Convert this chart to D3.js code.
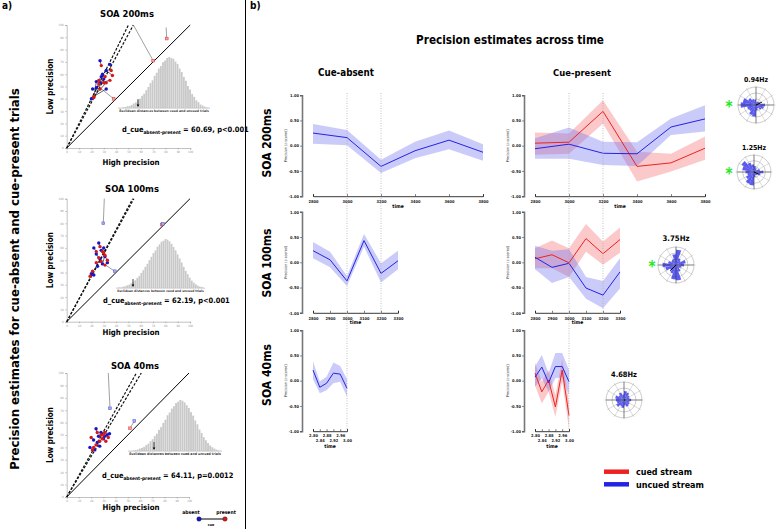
<!DOCTYPE html>
<html><head><meta charset="utf-8">
<script src="https://cdn.jsdelivr.net/npm/d3@7/dist/d3.min.js"></script>
<style>
body{margin:0;background:#fff;}
svg{display:block;}
text{font-family:'DejaVu Sans Condensed','DejaVu Sans',sans-serif;}
</style></head><body>
<svg id="c" width="777" height="529"></svg>
<script>
// ================= DATA =================
const soaTitles = ["SOA 200ms", "SOA 100ms", "SOA 40ms"];
const statValues = ["= 60.69, p<0.001", "= 62.19, p<0.001", "= 64.11, p=0.0012"];
const absent200 = [[27,71],[35,68],[32,63],[29,60],[24,54],[21,48],[20,40],[24,49],[27,53],[30,56],[32,48],[28,58]];
const present200 = [[28,67],[36,63],[37,59],[26,55],[22,41],[27,48],[32,53],[30,53],[35,55],[26,52],[22,42],[31,58]];
const absent100 = [[26,64],[22,60],[28,58],[24,55],[27,51],[31,53],[33,48],[20,39],[22,38],[25,45],[29,47],[30,60]];
const present100 = [[27,61],[24,57],[30,56],[26,52],[28,49],[33,50],[31,46],[21,41],[19,37],[24,48],[31,54],[29,57]];
const absent40 = [[24,55],[28,52],[31,49],[22,46],[25,44],[27,41],[19,40],[33,50],[30,47],[26,49],[23,38],[35,51]];
const present40 = [[25,52],[30,50],[29,47],[20,48],[27,45],[24,42],[21,38],[34,48],[32,45],[28,50],[22,40],[31,52]];
const dash200 = [50, 54];
const dash100 = [53.5, 54.5];
const dash40 = [57, 61];
const outLines200 = [[54,100,70,71],[80.5,98,81,89],[27,49,38,40]];
const outMarks200 = [[70,71,"r"],[81,89,"r"],[38,40,"r"]];
const outLines100 = [[30.5,100,29.7,80],[30,47,39,41]];
const outMarks100 = [[29.7,80,"b"],[39,41,"b"],[77,79,"r"],[78,79.6,"b"]];
const outLines40 = [[34,100,35.4,71.5],[51.8,55.4,55.3,61.3]];
const outMarks40 = [[35.4,71.5,"b"],[51.8,55.4,"r"],[55.3,61.3,"b"]];
const hist200 = [1,1,2,3,5,6,9,13,16,22,27,35,41,51,60,71,79,92,101,113,120,131,136,143,146,143,141,133,126,113,103,89,78,63,53,40,32,22,17,10,7,4,2,1];
const hist100 = [1,2,2,4,5,8,10,14,19,23,30,36,45,53,63,72,83,93,104,112,123,130,138,141,146,144,139,131,122,112,100,88,76,63,51,41,31,22,16,11,7,4,3,1];
const hist40 = [1,1,2,3,4,7,9,12,17,21,28,34,43,50,61,69,81,90,103,111,122,129,138,142,147,145,140,132,124,112,102,88,77,62,52,40,31,23,16,11,7,4,2,1];
const histLabel = "Euclidean distances between cued and uncued trials";
const axisTicksA = [0,10,20,30,40,50,60,70,80,90,100];

const times200 = [2800,3000,3200,3400,3600,3800];
const times100 = [2800,2900,3000,3100,3200,3300];
const times40 = [2800,2840,2880,2920,2960,3000];
const yTicksB = [-1, -0.5, 0, 0.5, 1];
const absent200Mean = [0.25,0.16,-0.41,-0.10,0.11,-0.13];
const absent200Lo   = [0.04,0.01,-0.54,-0.25,-0.07,-0.30];
const absent200Hi   = [0.43,0.31,-0.28,0.08,0.30,0.03];
const absent100Mean = [0.23,0.05,-0.37,0.43,-0.22,0.03];
const absent100Lo   = [0.08,-0.10,-0.47,0.31,-0.40,-0.14];
const absent100Hi   = [0.40,0.21,-0.27,0.56,-0.02,0.23];
const absent40Mean  = [0.21,-0.13,-0.05,0.15,0.13,-0.15];
const absent40Lo    = [0.03,-0.25,-0.19,-0.05,-0.02,-0.32];
const absent40Hi    = [0.38,-0.01,0.08,0.36,0.29,0.03];
const cued200Mean = [0.05,0.07,0.68,-0.41,-0.34,-0.05];
const cued200Lo   = [-0.18,-0.16,0.44,-0.71,-0.51,-0.28];
const cued200Hi   = [0.26,0.24,0.90,-0.12,-0.16,0.18];
const cued100Mean = [0.07,0.15,-0.01,0.47,0.17,0.45];
const cued100Lo   = [-0.12,-0.12,-0.29,0.21,-0.05,0.19];
const cued100Hi   = [0.28,0.43,0.28,0.76,0.41,0.69];
const cued40Mean  = [0.15,-0.22,0.01,-0.52,0.21,-0.69];
const cued40Lo    = [-0.09,-0.45,-0.22,-0.72,-0.02,-0.95];
const cued40Hi    = [0.36,-0.02,0.21,-0.29,0.43,-0.42];
const uncued200Mean = [-0.06,0.03,-0.15,-0.16,0.37,0.53];
const uncued200Lo   = [-0.26,-0.26,-0.38,-0.40,0.21,0.28];
const uncued200Hi   = [0.15,0.36,0.08,0.07,0.54,0.80];
const uncued100Mean = [0.10,-0.10,-0.02,-0.51,-0.65,-0.19];
const uncued100Lo   = [-0.14,-0.41,-0.29,-0.72,-0.91,-0.52];
const uncued100Hi   = [0.33,0.23,0.26,-0.29,-0.37,0.08];
const uncued40Mean  = [0.07,0.27,-0.04,0.28,0.28,-0.02];
const uncued40Lo    = [-0.12,0.05,-0.22,0.05,0.07,-0.29];
const uncued40Hi    = [0.28,0.51,0.15,0.55,0.55,0.21];
const markerTimes = [3000, 3200];
const polarLabels = ["0.94Hz","1.25Hz","3.75Hz","4.68Hz"];
const rose1 = [0.5,0.2,0.25,0.2,0.15,0.3,0.35,0.5,0.75,0.85,0.5,0.45,0.6,0.65,0.3,0.2,0.35,0.45];
const rose2 = [0.55,0.35,0.2,0.25,0.35,0.45,0.6,0.85,0.7,0.5,0.4,0.55,0.75,0.8,0.3,0.2,0.25,0.4];
const rose3 = [0.45,0.55,0.3,0.4,0.85,0.6,0.35,0.3,0.45,0.75,0.6,0.4,0.5,0.8,0.85,0.4,0.25,0.3];
const rose4 = [0.4,0.3,0.35,0.45,0.5,0.3,0.45,0.35,0.5,0.45,0.4,0.5,0.35,0.45,0.3,0.4,0.35,0.3];
const roseSignificant = [true, true, true, false];
const roseVecAngle = [25, -25, 225, 0];
const roseVecLen = [0.35, 0.3, 0.45, 0.08];
const legendLabels = ["cued stream", "uncued stream"];

// ================= DRAW =================
const svg = d3.select("#c");
const BLUE = "#2323e6", RED = "#ee2222";
const BLUE_BAND = "rgba(110,110,240,0.36)", RED_BAND = "rgba(245,105,105,0.36)";

function fit(t, w) {
  const L = t.node().getComputedTextLength();
  const k = w / L;
  t.attr("font-size", +t.attr("font-size") * k);
  t.selectAll("tspan").each(function () {
    const s = d3.select(this);
    if (s.attr("font-size")) s.attr("font-size", +s.attr("font-size") * k);
    if (s.attr("dy")) s.attr("dy", +s.attr("dy") * k);
  });
  return k;
}
function label(x, y, txt, size, opts = {}) {
  const t = svg.append("text").attr("x", x).attr("y", y).attr("font-size", size)
    .attr("font-weight", opts.weight || "bold").attr("fill", opts.fill || "#000")
    .attr("text-anchor", opts.anchor || "middle").text(txt);
  if (opts.rotate) t.attr("x", 0).attr("y", 0).attr("transform", `translate(${x},${y}) rotate(-90)`);
  if (opts.width) fit(t, opts.width);
  return t;
}

svg.append("line").attr("x1", 245.5).attr("x2", 245.5).attr("y1", 0).attr("y2", 529).attr("stroke", "#000").attr("stroke-width", 1);
label(2, 9, "a)", 10, { anchor: "start" });
label(250, 9, "b)", 10, { anchor: "start" });
label(19, 279, "Precision estimates for cue-absent and cue-present trials", 14, { rotate: true, width: 382 });

// ---------- Panel a ----------
const aLayout = [
  { ox: 66.7, oy: 148, w: 123.5, h: 123, tx: 127, ty: 17, sx: 122, sy: 132, hx: [118, 210], hb: 108, hh: 51, ar: 138, hy: 165 },
  { ox: 66.7, oy: 321.7, w: 123.3, h: 123, tx: 132, ty: 192, sx: 103, sy: 303, hx: [116, 205], hb: 288, hh: 49, ar: 133, hy: 335 },
  { ox: 66.7, oy: 497, w: 122.3, h: 124, tx: 135, ty: 369, sx: 102, sy: 478, hx: [128, 222], hb: 451, hh: 51, ar: 154, hy: 510 }
];
const aData = [
  { abs: absent200, pre: present200, dash: dash200, lines: outLines200, marks: outMarks200, hist: hist200 },
  { abs: absent100, pre: present100, dash: dash100, lines: outLines100, marks: outMarks100, hist: hist100 },
  { abs: absent40, pre: present40, dash: dash40, lines: outLines40, marks: outMarks40, hist: hist40 }
];
const titlesA = [], statsA = [];

aLayout.forEach((L, i) => {
  const D = aData[i];
  const x = d3.scaleLinear([0, 100], [L.ox, L.ox + L.w]);
  const y = d3.scaleLinear([0, 100], [L.oy, L.oy - L.h]);
  const g = svg.append("g");
  const ax = g.append("g").attr("transform", `translate(0,${L.oy})`)
    .call(d3.axisBottom(x).tickValues(axisTicksA).tickSize(1.5).tickPadding(1.5));
  const ay = g.append("g").attr("transform", `translate(${L.ox},0)`)
    .call(d3.axisLeft(y).tickValues(axisTicksA).tickSize(1.5).tickPadding(1.5));
  [ax, ay].forEach(a => {
    a.selectAll("path,line").attr("stroke", "#999").attr("stroke-width", 0.6);
    a.selectAll("text").attr("font-size", 3).attr("fill", "#999").attr("font-family", "DejaVu Sans");
  });
  const hx = d3.scaleBand(d3.range(D.hist.length), L.hx).padding(0.12);
  const hy = d3.scaleLinear([0, d3.max(D.hist)], [L.hb, L.hb - L.hh]);
  g.selectAll(".hb").data(D.hist).join("rect")
    .attr("x", (d, j) => hx(j)).attr("width", hx.bandwidth())
    .attr("y", d => hy(d)).attr("height", d => L.hb - hy(d)).attr("fill", "#c9c9c9");
  g.append("line").attr("x1", L.hx[0]).attr("x2", L.hx[1]).attr("y1", L.hb + 0.3).attr("y2", L.hb + 0.3).attr("stroke", "#aaa").attr("stroke-width", 0.5);
  const ht = g.append("text").attr("x", (L.hx[0] + L.hx[1]) / 2).attr("y", L.hb + 4.2).attr("text-anchor", "middle")
    .attr("font-size", 3).attr("font-weight", "bold").attr("fill", "#333").text(histLabel);
  fit(ht, L.hx[1] - L.hx[0] - 2);
  g.append("line").attr("x1", L.ar).attr("x2", L.ar).attr("y1", L.hb - 9).attr("y2", L.hb - 2).attr("stroke", "#000").attr("stroke-width", 0.7);
  g.append("path").attr("d", `M${L.ar - 1.3},${L.hb - 3.5} L${L.ar},${L.hb - 1} L${L.ar + 1.3},${L.hb - 3.5} Z`).attr("fill", "#000");
  g.append("line").attr("x1", x(0)).attr("y1", y(0)).attr("x2", x(100)).attr("y2", y(100)).attr("stroke", "#000").attr("stroke-width", 1);
  D.dash.forEach(dx => g.append("line").attr("x1", x(0)).attr("y1", y(0)).attr("x2", x(dx)).attr("y2", y(100))
    .attr("stroke", "#111").attr("stroke-width", 1.2).attr("stroke-dasharray", "2.6,1.6"));
  D.lines.forEach(s => g.append("line").attr("x1", x(s[0])).attr("y1", y(s[1])).attr("x2", x(s[2])).attr("y2", y(s[3]))
    .attr("stroke", "#888").attr("stroke-width", 0.8));
  D.abs.forEach((p, j) => {
    const q = D.pre[j];
    g.append("line").attr("x1", x(p[0])).attr("y1", y(p[1])).attr("x2", x(q[0])).attr("y2", y(q[1])).attr("stroke", "#222").attr("stroke-width", 0.7);
  });
  g.selectAll(".pa").data(D.abs).join("circle").attr("cx", d => x(d[0])).attr("cy", d => y(d[1])).attr("r", 1.7).attr("fill", "#1515c8");
  g.selectAll(".pp").data(D.pre).join("circle").attr("cx", d => x(d[0])).attr("cy", d => y(d[1])).attr("r", 1.7).attr("fill", "#d41a1a");
  D.marks.forEach(m => g.append("rect").attr("x", x(m[0]) - 1.4).attr("y", y(m[1]) - 1.4).attr("width", 2.8).attr("height", 2.8)
    .attr("fill", m[2] === "r" ? "#f4a0a0" : "#a8a8f4").attr("stroke", m[2] === "r" ? "#d33" : "#55c").attr("stroke-width", 0.5));
  titlesA.push(label(L.tx, L.ty, soaTitles[i], 8, {}));
  label(53, L.oy - L.h / 2, "Low precision", 7.5, { rotate: true, width: 56 });
  label(131, L.hy, "High precision", 7.5, { width: 57 });
  const st = svg.append("text").attr("x", L.sx).attr("y", L.sy).attr("font-size", 8.5).attr("font-weight", "bold");
  st.append("tspan").attr("font-size", 8.5).text("d_cue");
  st.append("tspan").attr("font-size", 5.5).attr("dy", 2).text("absent-present");
  st.append("tspan").attr("font-size", 8.5).attr("dy", -2).text(" " + statValues[i]);
  statsA.push(st);
});
const kT = titlesA[1].node().getComputedTextLength();
titlesA.forEach(t => t.attr("font-size", 8 * 54 / kT));
const kS = 127 / statsA[1].node().getComputedTextLength();
statsA.forEach(st => st.selectAll("tspan").each(function () {
  const s = d3.select(this);
  s.attr("font-size", +s.attr("font-size") * kS);
  if (s.attr("dy")) s.attr("dy", +s.attr("dy") * kS);
}));

label(191, 513.5, "absent", 5, {});
label(226, 513.5, "present", 5, {});
svg.append("line").attr("x1", 199).attr("x2", 225).attr("y1", 519).attr("y2", 519).attr("stroke", "#000").attr("stroke-width", 1);
svg.append("circle").attr("cx", 199).attr("cy", 519).attr("r", 2.3).attr("fill", "#1515c8").attr("stroke", "#000").attr("stroke-width", 0.3);
svg.append("circle").attr("cx", 225).attr("cy", 519).attr("r", 2.3).attr("fill", "#d41a1a").attr("stroke", "#000").attr("stroke-width", 0.3);
label(211, 525.5, "cue", 3.6, {});

// ---------- Panel b ----------
label(510, 44, "Precision estimates across time", 14, { width: 188 });
label(346, 76, "Cue-absent", 10, { width: 56 });
label(582, 76, "Cue-present", 10, { width: 58 });

const rows = [
  { zero: 145.7, times: times200, label: 143, lw: 69 },
  { zero: 262.3, times: times100, label: 263, lw: 69 },
  { zero: 380.7, times: times40, label: 375, lw: 62 }
];
const rowSeriesAbsent = [
  [[absent200Mean, absent200Lo, absent200Hi, "b"]],
  [[absent100Mean, absent100Lo, absent100Hi, "b"]],
  [[absent40Mean, absent40Lo, absent40Hi, "b"]]
];
const rowSeriesPresent = [
  [[cued200Mean, cued200Lo, cued200Hi, "r"], [uncued200Mean, uncued200Lo, uncued200Hi, "b"]],
  [[cued100Mean, cued100Lo, cued100Hi, "r"], [uncued100Mean, uncued100Lo, uncued100Hi, "b"]],
  [[cued40Mean, cued40Lo, cued40Hi, "r"], [uncued40Mean, uncued40Lo, uncued40Hi, "b"]]
];
const colX = [313, 535];
const PX_PER_MS = 0.17;

function timePanel(x0, r, ri, series) {
  const t = r.times;
  const x = d3.scaleLinear([t[0], t[t.length - 1]], [x0, x0 + (t[t.length - 1] - t[0]) * PX_PER_MS]);
  const y = d3.scaleLinear([-1, 1], [r.zero + 50.5, r.zero - 50.5]);
  const g = svg.append("g");
  series.forEach(s => {
    const area = d3.area().x((d, j) => x(t[j])).y0((d, j) => y(s[1][j])).y1((d, j) => y(s[2][j]));
    g.append("path").attr("d", area(s[0])).attr("fill", s[3] === "r" ? RED_BAND : BLUE_BAND);
  });
  series.forEach(s => {
    const line = d3.line().x((d, j) => x(t[j])).y(d => y(d));
    g.append("path").attr("d", line(s[0])).attr("fill", "none").attr("stroke", s[3] === "r" ? RED : BLUE).attr("stroke-width", 1);
  });
  const ay = g.append("g").attr("transform", `translate(${x0 - 11},0)`)
    .call(d3.axisLeft(y).tickValues(yTicksB).tickFormat(d => d.toFixed(2)).tickSize(2).tickPadding(1));
  ay.select(".domain").attr("stroke", "#777").attr("stroke-width", 1.6);
  ay.selectAll(".tick line").attr("stroke", "#444").attr("stroke-width", 0.6);
  ay.selectAll("text").attr("font-size", 4).attr("font-weight", "bold").attr("fill", "#222");
  label(x0 - 26, r.zero, "Precision (z-scored)", 4, { rotate: true, weight: "normal", fill: "#333", width: 33 });
  const ax = g.append("g").attr("transform", `translate(0,${r.zero + 50.5})`)
    .call(d3.axisBottom(x).tickValues(t).tickSize(-2).tickPadding(4)
      .tickFormat(d => ri === 2 ? (d / 1000).toFixed(2) : d));
  ax.select(".domain").attr("stroke", "#222").attr("stroke-width", 0.9);
  ax.selectAll(".tick line").attr("stroke", "#222").attr("stroke-width", 0.6);
  ax.selectAll("text").attr("font-size", 4).attr("font-weight", "bold").attr("fill", "#222");
  if (ri === 2) ax.selectAll(".tick text").attr("dy", (d, j) => j % 2 ? "1.7em" : "0.55em");
  label(x((t[0] + t[t.length - 1]) / 2), r.zero + 50.5 + (ri === 2 ? 17 : 11.5), "time", 5, {});
}

rows.forEach((r, ri) => {
  timePanel(colX[0], r, ri, rowSeriesAbsent[ri]);
  timePanel(colX[1], r, ri, rowSeriesPresent[ri]);
  label(271, r.label, soaTitles[ri], 12, { rotate: true, width: r.lw });
});

colX.forEach(x0 => {
  const x = d3.scaleLinear([2800, 3800], [x0, x0 + 1000 * PX_PER_MS]);
  markerTimes.forEach((mt, k) => {
    svg.append("line").attr("x1", x(mt)).attr("x2", x(mt)).attr("y1", 93).attr("y2", k === 0 ? 433 : 316)
      .attr("stroke", "#a8a8a8").attr("stroke-width", 0.7).attr("stroke-dasharray", "1,1.5");
  });
});

const roses = [rose1, rose2, rose3, rose4];
const roseLayout = [
  { cx: 756, cy: 105, r: 18, ty: 82, sx: 729 },
  { cx: 754, cy: 172, r: 17, ty: 150, sx: 729 },
  { cx: 676, cy: 265, r: 18, ty: 241, sx: 652 },
  { cx: 624, cy: 400, r: 18, ty: 377, sx: 0 }
];
roses.forEach((rose, k) => {
  const L = roseLayout[k];
  const g = svg.append("g").attr("transform", `translate(${L.cx},${L.cy})`);
  const rs = d3.scaleLinear([0, 1], [0, L.r]);
  [1 / 3, 2 / 3, 1].forEach(f => g.append("circle").attr("r", rs(f)).attr("fill", "none").attr("stroke", "#999").attr("stroke-width", 0.5));
  d3.range(0, 360, 30).forEach(a => {
    const rad = a * Math.PI / 180;
    g.append("line").attr("x1", 0).attr("y1", 0).attr("x2", rs(1.08) * Math.cos(rad)).attr("y2", -rs(1.08) * Math.sin(rad))
      .attr("stroke", "#aaa").attr("stroke-width", 0.4);
  });
  const arc = d3.arc().innerRadius(0);
  rose.forEach((v, j) => {
    const th = j * 20;
    g.append("path").attr("d", arc({ outerRadius: rs(v), startAngle: (90 - th - 10) * Math.PI / 180, endAngle: (90 - th + 10) * Math.PI / 180 }))
      .attr("fill", "#4a4aee").attr("fill-opacity", 0.9);
  });
  g.append("line").attr("x1", -rs(1)).attr("x2", rs(1)).attr("y1", 0).attr("y2", 0).attr("stroke", "#333").attr("stroke-width", 0.5);
  g.append("line").attr("x1", 0).attr("x2", 0).attr("y1", -rs(1)).attr("y2", rs(1)).attr("stroke", "#333").attr("stroke-width", 0.5);
  const va = roseVecAngle[k] * Math.PI / 180;
  g.append("line").attr("x1", 0).attr("y1", 0).attr("x2", rs(roseVecLen[k]) * Math.cos(va)).attr("y2", -rs(roseVecLen[k]) * Math.sin(va))
    .attr("stroke", "#000").attr("stroke-width", 1);
  label(L.cx, L.ty, polarLabels[k], 8, { width: k === 2 ? 27 : (k === 3 ? 26 : 24) });
  if (roseSignificant[k]) {
    svg.append("text").attr("x", L.sx).attr("y", L.cy + 6.5).attr("text-anchor", "middle").attr("font-size", 15)
      .attr("font-weight", "bold").attr("fill", "#22e822").attr("font-family", "DejaVu Sans").text("*");
  }
});

[RED, BLUE].forEach((c, k) => {
  const yy = 471.7 + k * 12.6;
  svg.append("line").attr("x1", 604).attr("x2", 629).attr("y1", yy).attr("y2", yy).attr("stroke", c).attr("stroke-width", 4.5);
  label(636, yy + 3.2, legendLabels[k], 9.5, { anchor: "start", width: k ? 68 : 56 });
});
</script></body></html>
